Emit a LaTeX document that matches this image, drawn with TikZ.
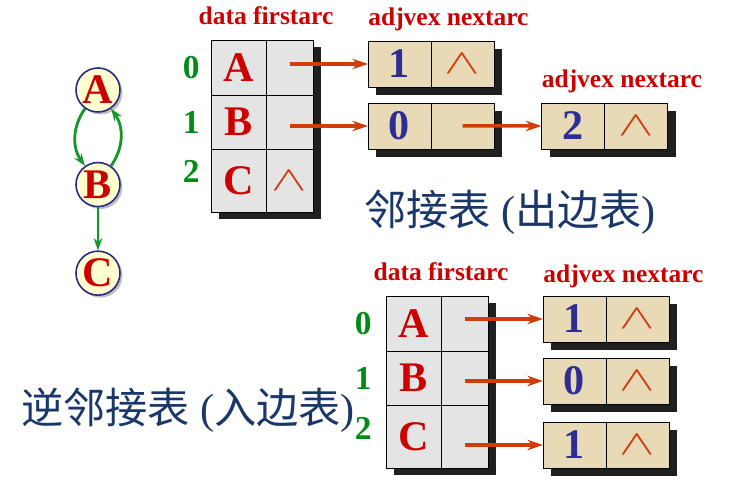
\documentclass[tikz,border=0pt]{standalone}
\usepackage{graphicx}
\usepackage{fontspec}
\setmainfont{Liberation Serif}
\newfontfamily\cjk{Noto Sans CJK SC}
\usetikzlibrary{positioning, shadows, arrows.meta}

\definecolor{vexred}{RGB}{204,0,0}
\definecolor{linkred}{RGB}{210,60,10}
\definecolor{idxgreen}{RGB}{0,140,20}
\definecolor{edgegreen}{RGB}{20,150,40}
\definecolor{numblue}{RGB}{45,45,150}
\definecolor{titleblue}{RGB}{25,55,105}
\definecolor{marble}{RGB}{228,228,228}
\definecolor{nodetan}{RGB}{232,217,183}
\definecolor{vexfill}{RGB}{255,255,208}
\definecolor{vexline}{RGB}{40,40,130}

\newcommand{\nil}{\scalebox{1.75}[1.15]{\LARGE$\wedge$}}

\tikzstyle{arrow} = [draw=linkred, line width=2pt, -{Stealth[length=9pt, width=6pt]}]
\tikzstyle{garrow} = [draw=edgegreen, line width=1.6pt, -{Stealth[length=7pt, width=5pt]}]
\tikzstyle{vex} = [circle, minimum size=0.88cm, inner sep=0pt, draw=vexline, line width=0.9pt, fill=vexfill, text=vexred, font=\fontsize{24}{24}\selectfont\bfseries, drop shadow={shadow xshift=0.05cm, shadow yshift=-0.05cm, opacity=0.5}]
\tikzstyle{tabcell} = [rectangle, draw=black, fill=marble, inner sep=0pt, outer sep=0pt, drop shadow={shadow xshift=0.15cm, shadow yshift=-0.15cm, fill=black!88, opacity=1}]
\tikzstyle{datacell} = [tabcell, minimum width=1.1cm, text=vexred, font=\fontsize{24}{24}\selectfont\bfseries]
\tikzstyle{firstcell} = [tabcell, minimum width=0.94cm, text=linkred]
\tikzstyle{rowa} = [minimum height=1.1cm]
\tikzstyle{rowb} = [minimum height=1.08cm]
\tikzstyle{rowc} = [minimum height=1.26cm]
\tikzstyle{listcell} = [rectangle, draw=black, fill=nodetan, minimum width=1.26cm, minimum height=0.92cm, inner sep=0pt, outer sep=0pt, drop shadow={shadow xshift=0.16cm, shadow yshift=-0.16cm, fill=black!88, opacity=1}]
\tikzstyle{adjcell} = [listcell, text=numblue, font=\fontsize{24}{24}\selectfont\bfseries]
\tikzstyle{nextcell} = [listcell, text=linkred]
\tikzstyle{idx} = [inner sep=0pt, text=idxgreen, font=\fontsize{19}{19}\selectfont\bfseries]
\tikzstyle{hdr} = [inner sep=0pt, text=vexred, font=\fontsize{14.5}{14.5}\selectfont\bfseries]
\tikzstyle{title} = [inner sep=0pt, text=titleblue, font=\fontsize{24}{24}\selectfont]

\begin{document}
\begin{tikzpicture}
\useasboundingbox (0,0) rectangle (14.8,10.08);

% graph
\node (A) [vex] at (1.96,8.28) {A};
\node (B) [vex, below=0.98cm of A] {B};
\node (C) [vex, below=0.86cm of B] {C};
\draw [garrow] (A) to[bend right=35] (B);
\draw [garrow] (B) to[bend right=35] (A);
\draw [garrow] (B) -- (C);

% adjacency list
\node (t0d) [datacell, rowa, anchor=north west] at (4.22,9.28) {A};
\node (t0f) [firstcell, rowa, right=0pt of t0d] {};
\node (t1d) [datacell, rowb, below=0pt of t0d] {B};
\node (t1f) [firstcell, rowb, right=0pt of t1d] {};
\node (t2d) [datacell, rowc, below=0pt of t1d] {C};
\node (t2f) [firstcell, rowc, right=0pt of t2d] {\nil};
\node (t0i) [idx, left=0.22cm of t0d] {0};
\node (t1i) [idx, left=0.22cm of t1d] {1};
\node (t2i) [idx, left=0.22cm of t2d, yshift=0.18cm] {2};
\node (thd) [hdr, above=0.3cm of t0d.north east, anchor=base] {data firstarc};

\node (a0v) [adjcell, anchor=north west] at (7.36,9.26) {1};
\node (a0n) [nextcell, right=0pt of a0v] {\nil};
\node (a1v) [adjcell, below=0.32cm of a0v] {0};
\node (a1n) [nextcell, right=0pt of a1v] {};
\node (a2v) [adjcell, anchor=north west] at (10.83,8.02) {2};
\node (a2n) [nextcell, right=0pt of a2v] {\nil};
\node (ahd0) [hdr, above=0.3cm of a0v.north west, anchor=base west] {adjvex nextarc};
\node (ahd2) [hdr, above=0.3cm of a2v.north west, anchor=base west] {adjvex nextarc};

\draw [arrow] (a0v.west -| t0f.center) -- (a0v.west);
\draw [arrow] (a1v.west -| t1f.center) -- (a1v.west);
\draw [arrow] (a1n.center) -- (a2v.west);

\node (outtitle) [title] at (10.2,5.84) {{\cjk 邻接表} ({\cjk 出边表})};

% inverse adjacency list
\node (b0d) [datacell, rowa, anchor=north west] at (7.72,4.16) {A};
\node (b0f) [firstcell, rowa, right=0pt of b0d] {};
\node (b1d) [datacell, rowb, below=0pt of b0d] {B};
\node (b1f) [firstcell, rowb, right=0pt of b1d] {};
\node (b2d) [datacell, rowc, below=0pt of b1d] {C};
\node (b2f) [firstcell, rowc, right=0pt of b2d] {};
\node (b0i) [idx, left=0.28cm of b0d] {0};
\node (b1i) [idx, left=0.28cm of b1d] {1};
\node (b2i) [idx, left=0.28cm of b2d, yshift=0.16cm] {2};
\node (bhd) [hdr, above=0.3cm of b0d.north east, anchor=base] {data firstarc};

\node (c0v) [adjcell, anchor=north west] at (10.86,4.16) {1};
\node (c0n) [nextcell, right=0pt of c0v] {\nil};
\node (c1v) [adjcell, below=0.32cm of c0v] {0};
\node (c1n) [nextcell, right=0pt of c1v] {\nil};
\node (c2v) [adjcell, below=0.36cm of c1v] {1};
\node (c2n) [nextcell, right=0pt of c2v] {\nil};
\node (chd) [hdr, above=0.26cm of c0v.north west, anchor=base west] {adjvex nextarc};

\draw [arrow] (c0v.west -| b0f.center) -- (c0v.west);
\draw [arrow] (c1v.west -| b1f.center) -- (c1v.west);
\draw [arrow] (c2v.west -| b2f.center) -- (c2v.west);

\node (intitle) [title] at (3.76,1.88) {{\cjk 逆邻接表} ({\cjk 入边表})};
\end{tikzpicture}
\end{document}
